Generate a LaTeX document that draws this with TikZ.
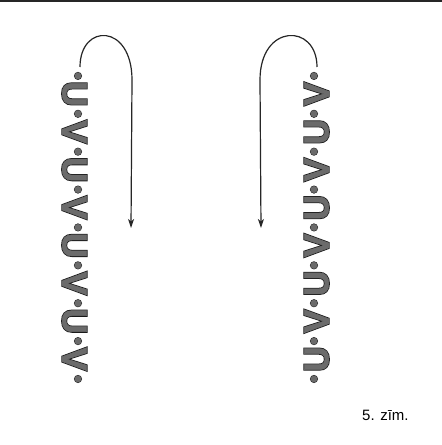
\documentclass[tikz,border=0pt]{standalone}
\usepackage{fontspec}
\setmainfont{Liberation Sans}
\newfontfamily\chainfont{Liberation Sans Bold}[FakeBold=1.5]
\newfontfamily\chainedge{Liberation Sans Bold}[FakeBold=6]
\usetikzlibrary{arrows.meta}
\definecolor{inkfill}{gray}{0.42}
\definecolor{inkline}{gray}{0.1}
\newcommand\inkglyph[1]{\rlap{\color{inkline}\chainedge #1}{\color{inkfill}\chainfont #1}}
\newcommand\inkdot{\raisebox{-0.37em}{\inkglyph{•}}}
\tikzset{
  letterbox/.style={inner sep=0pt, outer sep=0pt, font=\fontsize{35}{35}\selectfont, text height=25pt, text depth=0pt},
  beadbox/.style={inner sep=0pt, outer sep=0pt, font=\fontsize{23}{23}\selectfont, text height=0pt, text depth=0pt},
  flowline/.style={line width=1.2pt, draw=black!85, -{Stealth[length=9pt,width=6pt,inset=2.5pt]}},
  topline/.style={line width=2pt, draw=black!85},
  captionstyle/.style={inner sep=0pt, anchor=base west, font=\fontsize{15}{18}\selectfont}
}
\begin{document}
\begin{tikzpicture}[x=1pt,y=1pt]
\useasboundingbox (0,0) rectangle (442,445);
\fill[white] (0,0) rectangle (442,445);
\coordinate (tl) at (0,444);
\coordinate (tr) at (442,444);
\draw[topline] (tl) -- (tr);
% left chain (reads top to bottom)
\foreach \i/\ch in {1/U,3/V,5/U,7/V,9/U,11/V,13/U,15/V}
  \node[letterbox, rotate=-90] (L\i) at (75, {370-18.94*\i}) {\inkglyph{\ch}};
\foreach \i in {0,2,...,16}
  \node[beadbox] (L\i) at (78, {370-18.94*\i}) {\inkdot};
% right chain (reads bottom to top)
\foreach \i/\ch in {1/V,3/U,5/V,7/U,9/V,11/U,13/V,15/U}
  \node[letterbox, rotate=90] (R\i) at (316, {370-18.94*\i}) {\inkglyph{\ch}};
\foreach \i in {0,2,...,16}
  \node[beadbox] (R\i) at (314, {370-18.94*\i}) {\inkdot};
% arrows
\coordinate (la0) at (80,378);
\coordinate (la1) at (132,365);
\coordinate (la2) at (131,217);
\draw[flowline] (la0) .. controls (80,422) and (132,422) .. (la1) -- (la2);
\coordinate (ra0) at (317,378);
\coordinate (ra1) at (260,365);
\coordinate (ra2) at (261,217);
\draw[flowline] (ra0) .. controls (317,422) and (260,422) .. (ra1) -- (ra2);
% caption
\node[captionstyle] (caption) at (362,24) {5. zīm.};
\end{tikzpicture}
\end{document}
